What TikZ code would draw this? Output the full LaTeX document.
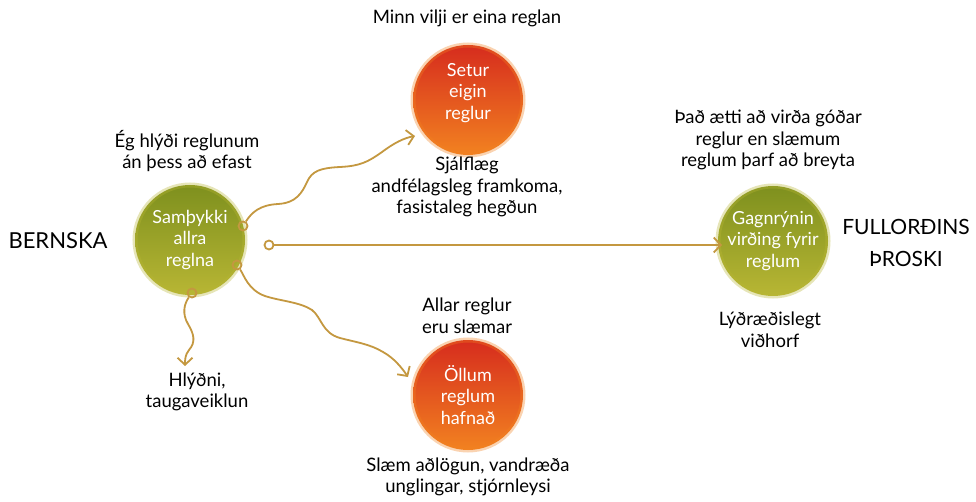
\documentclass[tikz,border=0pt]{standalone}
\usepackage{fontspec}
\setmainfont{Lato}
\usetikzlibrary{arrows.meta}
\definecolor{gold}{RGB}{196,152,64}
\definecolor{gtop}{RGB}{126,144,30}
\definecolor{gbot}{RGB}{184,182,52}
\definecolor{otop}{RGB}{214,44,30}
\definecolor{obot}{RGB}{242,130,32}
\begin{document}
\begin{tikzpicture}[x=1pt,y=-1pt,
  ctext/.style={text=white,align=center,font=\fontsize{18}{21.5}\selectfont},
  ball/.style={circle,minimum size=110pt,inner sep=0pt,ctext},
  greenball/.style={ball,top color=gtop,bottom color=gbot,draw=gbot,draw opacity=.35,line width=5pt},
  orangeball/.style={ball,top color=otop,bottom color=obot,draw=obot,draw opacity=.35,line width=5pt},
  lbl/.style={align=center,font=\fontsize{18.5}{21.5}\selectfont},
  big/.style={align=center,font=\fontsize{22}{32}\selectfont},
  dot/.style={circle,draw=gold,line width=1.8pt,minimum size=9pt,inner sep=0pt},
  conn/.style={draw=gold,line width=1.8pt,-{Straight Barb[length=7pt,width=15pt]}}
]
\fill[white] (0,0) rectangle (976,502);
\useasboundingbox (0,0) rectangle (976,502);

\node[greenball] (accept) at (190,240) {Samþykki\\allra\\reglna};
\node[orangeball,label={[ctext,yshift=7pt]center:{Setur\\eigin\\reglur}}] (own) at (468,100) {};
\node[orangeball] (reject) at (468,395) {Öllum\\reglum\\hafnað};
\node[greenball] (critical) at (773,241) {Gagnrýnin\\virðing fyrir\\reglum};

\node[dot] (d1) at (243,226) {};
\node[dot] (d2) at (237,265) {};
\node[dot] (d3) at (192,293) {};
\node[dot] (d4) at (269,245) {};
\coordinate (t1) at (415,136);
\coordinate (t2) at (408,377);
\coordinate (t3) at (185,366);
\coordinate (t4) at (722,245);

\draw[conn] (d1) .. controls (252,212) and (260,205) .. (278,204) .. controls (296,203) and (302,193) .. (307,182) .. controls (312,171) and (320,168) .. (340,167) .. controls (360,166) and (368,162) .. (382,152) .. controls (394,143) and (404,138) .. (t1);
\draw[conn] (d2) .. controls (244,275) and (248,290) .. (265,296) .. controls (280,301) and (300,302) .. (312,310) .. controls (322,318) and (322,333) .. (340,338) .. controls (355,342) and (370,344) .. (383,352) .. controls (394,358) and (402,368) .. (t2);
\draw[conn] (d3) .. controls (184,304) and (182,314) .. (188,324) .. controls (194,334) and (196,342) .. (189,350) .. controls (185,355) and (185,360) .. (t3);
\draw[conn] (d4) -- (t4);

\node[lbl] (motto) at (467,18) {Minn vilji er eina reglan};
\node[lbl] (ownres) at (467,187) {Sjálflæg\\andfélagsleg framkoma,\\fasistaleg hegðun};
\node[lbl] (obey) at (187,151) {Ég hlýði reglunum\\án þess að efast};
\node[lbl] (obres) at (197,392) {Hlýðni,\\taugaveiklun};
\node[lbl] (allbad) at (467,316) {Allar reglur\\eru slæmar};
\node[lbl] (rejres) at (468,477) {Slæm aðlögun, vandræða\\unglingar, stjórnleysi};
\node[lbl] (ought) at (768,140) {Það ætti að virða góðar\\reglur en slæmum\\reglum þarf að breyta};
\node[lbl] (demo) at (770,330) {Lýðræðislegt\\viðhorf};
\node[big] (child) at (58,241) {BERNSKA};
\node[big,font=\fontsize{21}{32}\selectfont] (adult) at (906,243) {FULLORÐINS\\ÞROSKI};
\end{tikzpicture}
\end{document}
